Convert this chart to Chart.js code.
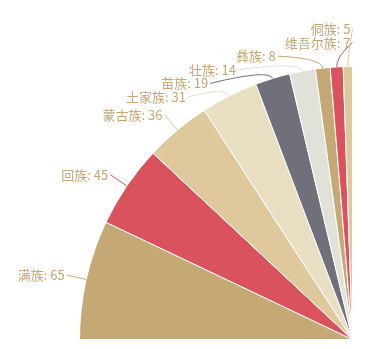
<!DOCTYPE html>
<html>
<head>
<meta charset="utf-8">
<script src="https://cdn.jsdelivr.net/npm/chart.js@4.4.0/dist/chart.umd.min.js"></script>
<style>
  html, body { margin: 0; padding: 0; background: #fff; }
  #wrap { width: 375px; height: 349px; position: relative; }
</style>
</head>
<body>
<div id="wrap"><canvas id="myChart"></canvas></div>
<script>
const names = ['满族', '回族', '蒙古族', '土家族', '苗族', '壮族', '彝族', '维吾尔族', '侗族'];
const counts = [65, 45, 36, 31, 19, 14, 8, 7, 5];
const palette = ['#c5a974', '#da525e', '#dfc89c', '#e8dfc3', '#6f7079', '#e1e1da'];

const sliceColors = names.map((n, i) => palette[i % palette.length]);
const labelColor = '#c6a672';
const labelFont = '13px "Noto Sans CJK SC", "Noto Sans", sans-serif';

// outside labels with leader lines, stacked so they don't overlap
const roseLabels = {
  id: 'roseLabels',
  afterDatasetsDraw(chart) {
    const ctx = chart.ctx;
    const gap = 13.6;
    const labelTop = 29;
    const items = chart.getDatasetMeta(0).data.map((arc, i) => {
      const p = arc.getProps(['x', 'y', 'startAngle', 'endAngle', 'outerRadius']);
      const mid = (p.startAngle + p.endAngle) / 2;
      return { i, cx: p.x, cy: p.y, r: p.outerRadius, mid, y0: p.y + Math.sin(mid) * (p.outerRadius + 20) };
    });

    // group overlapping labels and center each group on its natural spot
    const sorted = items.slice().sort((a, b) => a.y0 - b.y0);
    const place = c => {
      const n = c.list.length;
      c.start = Math.max(labelTop, c.sum / n - (n - 1) * gap / 2);
      c.end = c.start + (n - 1) * gap;
    };
    let clusters = sorted.map(it => ({ list: [it], sum: it.y0 }));
    clusters.forEach(place);
    let merged = true;
    while (merged) {
      merged = false;
      for (let k = 0; k < clusters.length - 1; k++) {
        const a = clusters[k], b = clusters[k + 1];
        if (b.start - a.end < gap) {
          a.list = a.list.concat(b.list);
          a.sum += b.sum;
          place(a);
          clusters.splice(k + 1, 1);
          merged = true;
          break;
        }
      }
    }
    clusters.forEach(c => c.list.forEach((it, j) => { it.ly = c.start + j * gap; }));

    ctx.save();
    ctx.font = labelFont;
    ctx.textAlign = 'right';
    ctx.textBaseline = 'middle';
    items.forEach(it => {
      const R2 = it.r + 20;
      const dy = Math.abs(it.ly - it.cy);
      const dx = dy < R2 ? Math.sqrt(R2 * R2 - dy * dy) : 0;
      const ex = it.cx - dx;
      const x0 = it.cx + Math.cos(it.mid) * it.r;
      const y0 = it.cy + Math.sin(it.mid) * it.r;
      const x1 = it.cx + Math.cos(it.mid) * (it.r + 10);
      const y1 = it.cy + Math.sin(it.mid) * (it.r + 10);
      ctx.strokeStyle = sliceColors[it.i];
      ctx.lineWidth = 1;
      ctx.beginPath();
      ctx.moveTo(x0, y0);
      ctx.quadraticCurveTo(x1, y1, ex, it.ly);
      ctx.stroke();
      ctx.fillStyle = labelColor;
      ctx.fillText(names[it.i] + ': ' + counts[it.i], ex - 2, it.ly);
    });
    ctx.restore();
  }
};

const data = {
  labels: names,
  datasets: [{
    data: counts,
    backgroundColor: sliceColors,
    borderColor: '#ffffff',
    borderWidth: 1
  }]
};

const config = {
  type: 'pie',
  data,
  options: {
    responsive: true,
    maintainAspectRatio: false,
    animation: false,
    rotation: -90,
    circumference: 90,
    layout: {
      padding: { left: 79, top: 66, right: 22, bottom: 9 }
    },
    plugins: {
      legend: { display: false },
      tooltip: { enabled: false }
    }
  },
  plugins: [roseLabels]
};

const myChart = new Chart(document.getElementById('myChart'), config);
</script>
</body>
</html>
